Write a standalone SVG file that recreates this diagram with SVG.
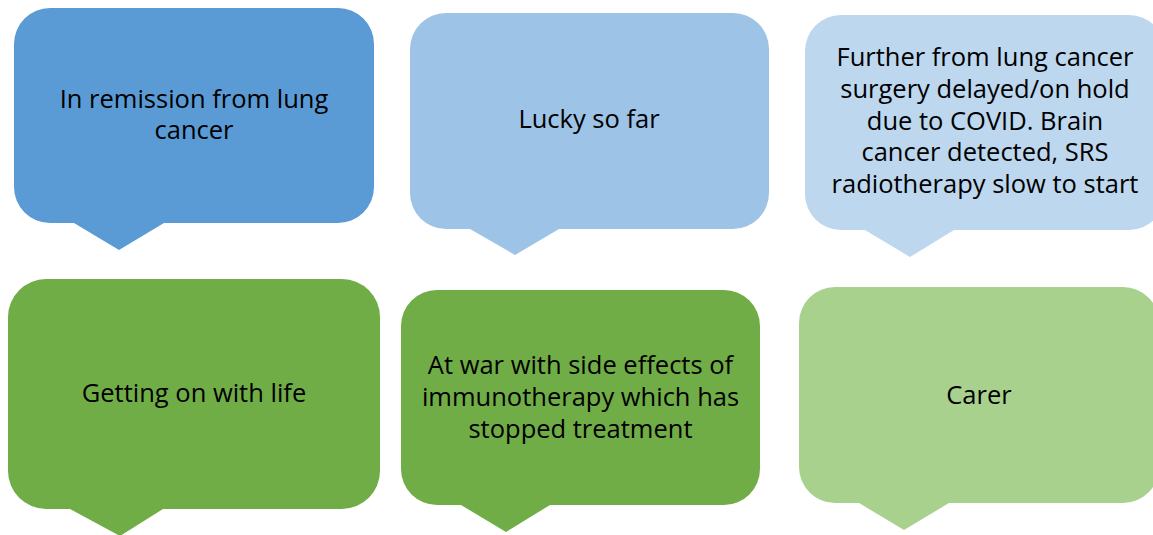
<svg xmlns="http://www.w3.org/2000/svg" width="1153" height="535" viewBox="0 0 1153 535">
<style>
text{font-family:"Open Sans","Noto Sans","Liberation Sans",sans-serif;font-size:25.5px;fill:#000;text-anchor:middle}
.b1{fill:#5B9BD5}.b2{fill:#9DC3E6}.b3{fill:#BDD7EE}.g1{fill:#70AD47}.g2{fill:#A9D18E}
</style>
<rect width="1153" height="535" fill="#fff"/>
<g id="connectors"/>
<g id="n1"><path class="b1" d="M50,8 H338 A36,36 0 0 1 374,44 V187 A36,36 0 0 1 338,223 H164 L119,250 L74,223 H50 A36,36 0 0 1 14,187 V44 A36,36 0 0 1 50,8 Z"/>
<text x="194" y="108">In remission from lung</text><text x="194" y="139">cancer</text></g>
<g id="n2"><path class="b2" d="M446,13 H733 A36,36 0 0 1 769,49 V193 A36,36 0 0 1 733,229 H559 L515,255 L470,229 H446 A36,36 0 0 1 410,193 V49 A36,36 0 0 1 446,13 Z"/>
<text x="589" y="128">Lucky so far</text></g>
<g id="n3"><path class="b3" d="M841,15 H1129 A36,36 0 0 1 1165,51 V194 A36,36 0 0 1 1129,230 H954 L910,257 L865,230 H841 A36,36 0 0 1 805,194 V51 A36,36 0 0 1 841,15 Z"/>
<text x="985" y="66">Further from lung cancer</text><text x="985" y="98">surgery delayed/on hold</text><text x="985" y="130">due to COVID. Brain</text><text x="985" y="161">cancer detected, SRS</text><text x="985" y="193">radiotherapy slow to start</text></g>
<g id="n4"><path class="g1" d="M46,279 H342 A38,38 0 0 1 380,317 V471 A38,38 0 0 1 342,509 H163 L120,536 L70,509 H46 A38,38 0 0 1 8,471 V317 A38,38 0 0 1 46,279 Z"/>
<text x="194" y="402">Getting on with life</text></g>
<g id="n5"><path class="g1" d="M437,290 H724 A36,36 0 0 1 760,326 V469 A36,36 0 0 1 724,505 H550 L506,532 L461,505 H437 A36,36 0 0 1 401,469 V326 A36,36 0 0 1 437,290 Z"/>
<text x="580.5" y="374">At war with side effects of</text><text x="580.5" y="406">immunotherapy which has</text><text x="580.5" y="438">stopped treatment</text></g>
<g id="n6"><path class="g2" d="M835,287 H1123 A36,36 0 0 1 1159,323 V467 A36,36 0 0 1 1123,503 H949 L904,530 L859,503 H835 A36,36 0 0 1 799,467 V323 A36,36 0 0 1 835,287 Z"/>
<text x="979" y="404">Carer</text></g>
</svg>
